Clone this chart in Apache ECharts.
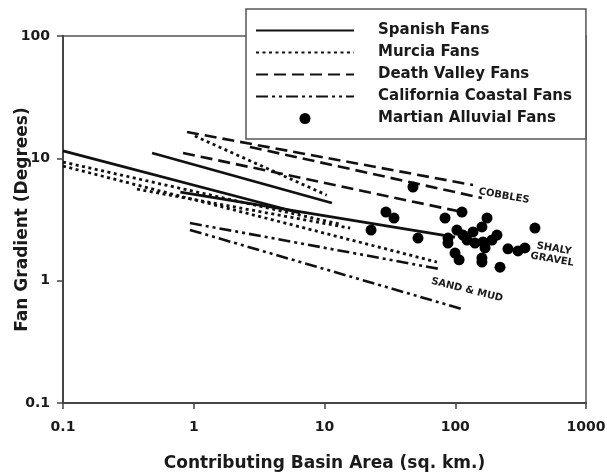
<!DOCTYPE html>
<html>
<head>
<meta charset="utf-8">
<script src="https://cdn.jsdelivr.net/npm/echarts@6/dist/echarts.min.js"></script>
<style>html,body{margin:0;padding:0;background:#fff;}#c{width:607px;height:474px;}</style>
</head>
<body>
<div id="c"></div>
<script>
// ---- data (basin area km², gradient degrees) ----
const spanishA = [[0.1, 11.5], [6.5, 3.57]];
const spanishB = [[0.48, 11.07], [11.4, 4.32]];
const spanishC = [[0.79, 5.3], [99.6, 2.27]];
const murciaA = [[1.02, 15.2], [10.4, 5.0]];
const murciaB = [[0.1, 9.33], [13.1, 2.9]];
const murciaC = [[0.1, 8.65], [72.4, 1.42]];
const murciaD = [[0.368, 5.6], [15.7, 2.69]];
const deathValleyA = [[0.888, 16.4], [136.8, 6.05]];
const deathValleyB = [[2.69, 12.4], [160, 4.74]];
const deathValleyC = [[0.828, 11.07], [123, 3.57]];
const californiaA = [[0.935, 2.96], [76.4, 1.245]];
const californiaB = [[0.935, 2.6], [112.7, 0.586]];
const martian = [
  [47.5, 5.83], [29.5, 3.64], [34.0, 3.25], [22.7, 2.59], [51.9, 2.23],
  [83.5, 3.25], [112.6, 3.64], [175, 3.25], [88.0, 2.23], [88.0, 2.03],
  [103, 2.59], [114.6, 2.36], [136.7, 2.50], [160, 2.75], [123, 2.15],
  [141.6, 2.03], [163, 2.07], [191, 2.15], [208.5, 2.36], [169, 1.85],
  [99.6, 1.68], [107, 1.48], [160, 1.53], [160, 1.42], [220, 1.29],
  [253, 1.82], [302, 1.75], [341, 1.85], [407, 2.69]
];
const legendNames = ['Spanish Fans', 'Murcia Fans', 'Death Valley Fans', 'California Coastal Fans', 'Martian Alluvial Fans'];
const annotations = [
  { text: 'COBBLES', coord: [236, 4.92], rotate: -10 },
  { text: 'SHALY\nGRAVEL', coord: [560, 1.65], rotate: -10 },
  { text: 'SAND & MUD', coord: [123, 0.84], rotate: -14 }
];
const xTickLabels = ['0.1', '1', '10', '100', '1000'];
const yTickLabels = ['0.1', '1', '10', '100'];

const FONT = "'DejaVu Sans', 'Liberation Sans', Arial, sans-serif";
const INK = '#111';
const TXT = '#1a1a1a';

function fmt(v) {
  const k = Math.round(Math.log10(v));
  return xTickLabels[k + 1] || '';
}

function lineSeries(name, data, type, width) {
  return {
    name: name, type: 'line', data: data, symbol: 'none', silent: true,
    lineStyle: { color: INK, width: width || 2.6, type: type, cap: 'butt' },
    itemStyle: { color: INK },
    z: 3
  };
}
const dotted = [3, 3.5];
const dashed = [12, 6];
const dashDotDot = [12, 4, 3, 4, 3, 4];

const series = [
  lineSeries('Spanish Fans', spanishA, 'solid', 2.7),
  lineSeries('Spanish Fans', spanishB, 'solid', 2.7),
  lineSeries('Spanish Fans', spanishC, 'solid', 2.7),
  lineSeries('Murcia Fans', murciaA, dotted, 2.8),
  lineSeries('Murcia Fans', murciaB, dotted, 2.8),
  lineSeries('Murcia Fans', murciaC, dotted, 2.8),
  lineSeries('Murcia Fans', murciaD, dotted, 2.8),
  lineSeries('Death Valley Fans', deathValleyA, dashed),
  lineSeries('Death Valley Fans', deathValleyB, dashed),
  lineSeries('Death Valley Fans', deathValleyC, dashed),
  lineSeries('California Coastal Fans', californiaA, dashDotDot),
  lineSeries('California Coastal Fans', californiaB, dashDotDot),
  {
    name: 'Martian Alluvial Fans', type: 'scatter', data: martian,
    symbol: 'circle', symbolSize: 11, itemStyle: { color: '#000', opacity: 1 }, z: 5, silent: true
  },
  {
    name: 'annotations', type: 'scatter', data: [], silent: true,
    markPoint: {
      symbol: 'circle', symbolSize: 1, itemStyle: { color: 'rgba(0,0,0,0)' },
      label: {
        show: true, position: 'inside', color: TXT,
        fontFamily: FONT, fontWeight: 'bold', fontSize: 10, lineHeight: 11, align: 'center'
      },
      data: annotations.map(a => ({
        coord: a.coord,
        label: { formatter: a.text, rotate: a.rotate }
      }))
    }
  }
];

const legendData = legendNames.map(n => n === 'Martian Alluvial Fans'
  ? { name: n, icon: 'circle' }
  : { name: n, itemStyle: { opacity: 0 } });

const chart = echarts.init(document.getElementById('c'), null, { renderer: 'canvas' });
chart.setOption({
  animation: false,
  backgroundColor: '#fff',
  grid: {
    left: 63, right: 21, top: 36, bottom: 71,
    outerBoundsMode: 'none', containLabel: false,
    show: true, borderColor: '#555', borderWidth: 1.5, backgroundColor: 'transparent'
  },
  legend: {
    data: legendData,
    orient: 'vertical',
    left: 246, top: 9,
    padding: [14, 14, 13, 9],
    itemWidth: 98, itemHeight: 11, itemGap: 7,
    backgroundColor: '#fff',
    borderColor: '#555', borderWidth: 1.5,
    selectedMode: false,
    textStyle: {
      fontFamily: FONT, fontWeight: 'bold', fontSize: 15, color: TXT,
      lineHeight: 14,
      padding: [0, 0, 0, 19]
    }
  },
  xAxis: {
    type: 'log', logBase: 10, min: 0.1, max: 1000,
    name: 'Contributing Basin Area (sq. km.)',
    nameLocation: 'middle', nameGap: 52, nameMoveOverlap: false,
    nameTextStyle: { fontFamily: FONT, fontWeight: 'bold', fontSize: 17, color: TXT },
    axisLine: { show: true, lineStyle: { color: '#444', width: 2 } },
    axisTick: { show: true, length: 6, inside: false, lineStyle: { color: '#444', width: 1.5 } },
    minorTick: { show: false },
    splitLine: { show: false },
    axisLabel: {
      margin: 17, formatter: fmt,
      fontFamily: FONT, fontWeight: 'bold', fontSize: 14, color: TXT
    }
  },
  yAxis: {
    type: 'log', logBase: 10, min: 0.1, max: 100,
    name: 'Fan Gradient (Degrees)',
    nameLocation: 'middle', nameGap: 32, nameRotate: 90, nameMoveOverlap: false,
    nameTextStyle: { fontFamily: FONT, fontWeight: 'bold', fontSize: 17, color: TXT },
    axisLine: { show: true, lineStyle: { color: '#444', width: 2 } },
    axisTick: { show: true, length: 6, inside: false, lineStyle: { color: '#444', width: 1.5 } },
    minorTick: { show: false },
    splitLine: { show: false },
    axisLabel: {
      margin: 13, formatter: function (v) { const k = Math.round(Math.log10(v)); return yTickLabels[k + 1] || ''; },
      fontFamily: FONT, fontWeight: 'bold', fontSize: 14, color: TXT
    }
  },
  series: series
});
</script>
</body>
</html>
